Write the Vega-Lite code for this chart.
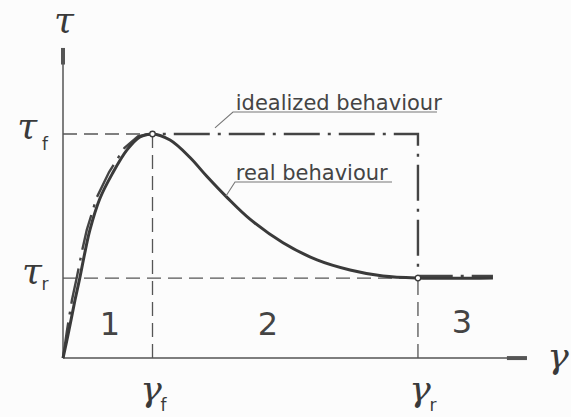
{
  "$schema": "https://vega.github.io/schema/vega-lite/v6.json",
  "width": 571,
  "height": 417,
  "autosize": "none",
  "padding": 0,
  "background": "#fcfcfc",
  "config": {"view": {"stroke": null}},
  "datasets": {
    "real": [
      {"g": 0, "t": 0}, {"g": 0.067, "t": 0.125}, {"g": 0.134, "t": 0.259}, {"g": 0.19, "t": 0.362},
      {"g": 0.25, "t": 0.482}, {"g": 0.3, "t": 0.571}, {"g": 0.41, "t": 0.71}, {"g": 0.55, "t": 0.822},
      {"g": 0.715, "t": 0.929}, {"g": 0.86, "t": 0.987}, {"g": 1, "t": 1}, {"g": 1.196, "t": 0.973},
      {"g": 1.419, "t": 0.895}, {"g": 1.609, "t": 0.81}, {"g": 1.832, "t": 0.717}, {"g": 2.089, "t": 0.62},
      {"g": 2.458, "t": 0.515}, {"g": 2.838, "t": 0.438}, {"g": 3.207, "t": 0.393}, {"g": 3.575, "t": 0.366},
      {"g": 3.966, "t": 0.357}, {"g": 4.804, "t": 0.357}
    ],
    "ideal": [
      {"i": 0, "g": 0, "t": 0}, {"i": 1, "g": 0.045, "t": 0.125}, {"i": 2, "g": 0.1, "t": 0.259},
      {"i": 3, "g": 0.155, "t": 0.362}, {"i": 4, "g": 0.215, "t": 0.482}, {"i": 5, "g": 0.265, "t": 0.571},
      {"i": 6, "g": 0.375, "t": 0.715}, {"i": 7, "g": 0.515, "t": 0.83}, {"i": 8, "g": 0.685, "t": 0.937},
      {"i": 9, "g": 0.84, "t": 0.99}, {"i": 10, "g": 1, "t": 1}, {"i": 11, "g": 3.966, "t": 1},
      {"i": 12, "g": 3.966, "t": 0.366}, {"i": 13, "g": 4.804, "t": 0.366}
    ],
    "guides": [
      {"g": 0, "g2": 1, "t": 1, "t2": 1},
      {"g": 1, "g2": 1, "t": 0, "t2": 1},
      {"g": 0, "g2": 3.966, "t": 0.357, "t2": 0.357},
      {"g": 3.966, "g2": 3.966, "t": 0, "t2": 0.357}
    ],
    "axes": [
      {"g": 0, "g2": 0, "t": 0, "t2": 1.384},
      {"g": 0, "g2": 5.184, "t": 0, "t2": 0}
    ],
    "axisEnds": [
      {"g": 0, "g2": 0, "t": 1.31, "t2": 1.384},
      {"g": 4.96, "g2": 5.184, "t": 0, "t2": 0}
    ],
    "leaders": [
      {"k": "ideal", "i": 0, "g": 1.698, "t": 1.027}, {"k": "ideal", "i": 1, "g": 1.899, "t": 1.098}, {"k": "ideal", "i": 2, "g": 4.179, "t": 1.098},
      {"k": "real", "i": 0, "g": 1.821, "t": 0.723}, {"k": "real", "i": 1, "g": 1.922, "t": 0.786}, {"k": "real", "i": 2, "g": 3.676, "t": 0.786}
    ],
    "nodes": [{"g": 1, "t": 1}, {"g": 3.966, "t": 0.357}],
    "notes": [
      {"g": 1.93, "t": 1.107, "text": "idealized behaviour"},
      {"g": 1.93, "t": 0.795, "text": "real behaviour"}
    ],
    "zones": [
      {"g": 0.525, "t": 0.147, "text": "1"},
      {"g": 2.29, "t": 0.147, "text": "2"},
      {"g": 4.458, "t": 0.156, "text": "3"}
    ],
    "symbols": [
      {"g": 0.011, "t": 1.455, "text": "τ"},
      {"g": -0.4, "t": 0.98, "text": "τ"},
      {"g": -0.346, "t": 0.335, "text": "τ"},
      {"g": 5.53, "t": -0.045, "text": "γ"},
      {"g": 0.983, "t": -0.19, "text": "γ"},
      {"g": 3.99, "t": -0.19, "text": "γ"}
    ],
    "subs": [
      {"g": -0.2, "t": 0.93, "text": "f"},
      {"g": -0.201, "t": 0.304, "text": "r"},
      {"g": 1.123, "t": -0.237, "text": "f"},
      {"g": 4.134, "t": -0.237, "text": "r"}
    ]
  },
  "encoding": {
    "x": {"field": "g", "type": "quantitative", "axis": null, "scale": {"domain": [-0.704, 5.676], "nice": false, "zero": false}},
    "y": {"field": "t", "type": "quantitative", "axis": null, "scale": {"domain": [-0.263, 1.598], "nice": false, "zero": false}}
  },
  "layer": [
    {
      "data": {"name": "axes"},
      "mark": {"type": "rule", "stroke": "#555555", "strokeWidth": 1.5},
      "encoding": {"x2": {"field": "g2"}, "y2": {"field": "t2"}}
    },
    {
      "data": {"name": "axisEnds"},
      "mark": {"type": "rule", "stroke": "#555555", "strokeWidth": 4},
      "encoding": {"x2": {"field": "g2"}, "y2": {"field": "t2"}}
    },
    {
      "data": {"name": "guides"},
      "mark": {"type": "rule", "stroke": "#555555", "strokeWidth": 1.3, "strokeDash": [14, 7]},
      "encoding": {"x2": {"field": "g2"}, "y2": {"field": "t2"}}
    },
    {
      "data": {"name": "ideal"},
      "mark": {"type": "line", "stroke": "#444444", "strokeWidth": 2.4, "strokeDash": [36, 8, 3, 8], "interpolate": "linear"},
      "encoding": {"order": {"field": "i"}}
    },
    {
      "data": {"name": "real"},
      "mark": {"type": "line", "stroke": "#3a3a3a", "strokeWidth": 3, "interpolate": "catmull-rom"},
      "encoding": {}
    },
    {
      "data": {"name": "leaders"},
      "mark": {"type": "line", "stroke": "#777777", "strokeWidth": 1.1},
      "encoding": {"detail": {"field": "k"}, "order": {"field": "i"}}
    },
    {
      "data": {"name": "nodes"},
      "mark": {"type": "point", "filled": true, "fill": "#ffffff", "stroke": "#3a3a3a", "strokeWidth": 1.3, "size": 30, "opacity": 1},
      "encoding": {}
    },
    {
      "data": {"name": "notes"},
      "mark": {"type": "text", "align": "left", "baseline": "alphabetic", "font": "DejaVu Sans", "fontSize": 21, "fill": "#444444"},
      "encoding": {"text": {"field": "text"}}
    },
    {
      "data": {"name": "zones"},
      "mark": {"type": "text", "align": "center", "baseline": "middle", "font": "DejaVu Sans", "fontSize": 32, "fill": "#444444"},
      "encoding": {"text": {"field": "text"}}
    },
    {
      "data": {"name": "symbols"},
      "mark": {"type": "text", "align": "center", "baseline": "alphabetic", "font": "DejaVu Serif", "fontStyle": "italic", "fontSize": 36, "fill": "#3a3a3a"},
      "encoding": {"text": {"field": "text"}}
    },
    {
      "data": {"name": "subs"},
      "mark": {"type": "text", "align": "center", "baseline": "alphabetic", "font": "DejaVu Sans", "fontSize": 17, "fill": "#3a3a3a"},
      "encoding": {"text": {"field": "text"}}
    }
  ]
}
